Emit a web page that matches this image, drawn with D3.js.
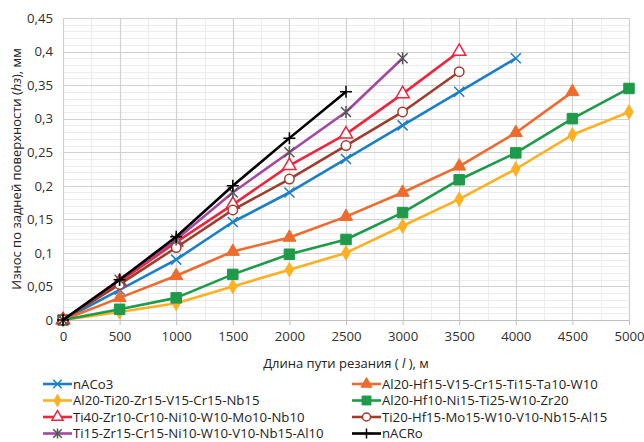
<!DOCTYPE html>
<html>
<head>
<meta charset="utf-8">
<script src="https://cdn.jsdelivr.net/npm/d3@7"></script>
<style>
  html, body { margin: 0; padding: 0; background: #fff; }
  svg { display: block; font-family: "Open Sans", "Noto Sans", sans-serif; }
</style>
</head>
<body>
<svg id="chart" width="644" height="442"></svg>
<script>
// Cutting path length, m
const distance = [0, 500, 1000, 1500, 2000, 2500, 3000, 3500, 4000, 4500, 5000];

// Flank wear hз, mm, for each coating
const nACo3      = [0, 0.045, 0.09, 0.146, 0.19, 0.24, 0.29, 0.34, 0.39];
const alHfVCrTiTaW = [0, 0.033, 0.066, 0.102, 0.123, 0.154, 0.19, 0.229, 0.279, 0.34];
const alTiZrVCrNb  = [0, 0.012, 0.025, 0.05, 0.075, 0.1, 0.14, 0.18, 0.225, 0.276, 0.31];
const alHfNiTiWZr  = [0, 0.016, 0.033, 0.068, 0.098, 0.12, 0.16, 0.209, 0.249, 0.3, 0.345];
const tiZrCrNiWMoNb = [0, 0.057, 0.116, 0.172, 0.23, 0.277, 0.337, 0.4];
const tiHfMoWVNbAl  = [0, 0.053, 0.108, 0.164, 0.21, 0.26, 0.31, 0.37];
const tiZrCrNiWVNbAl = [0, 0.06, 0.12, 0.19, 0.25, 0.31, 0.39];
const nACRo      = [0, 0.06, 0.124, 0.2, 0.271, 0.34];

const seriesNames = [
  "nACo3",
  "Al20-Hf15-V15-Cr15-Ti15-Ta10-W10",
  "Al20-Ti20-Zr15-V15-Cr15-Nb15",
  "Al20-Hf10-Ni15-Ti25-W10-Zr20",
  "Ti40-Zr10-Cr10-Ni10-W10-Mo10-Nb10",
  "Ti20-Hf15-Mo15-W10-V10-Nb15-Al15",
  "Ti15-Zr15-Cr15-Ni10-W10-V10-Nb15-Al10",
  "nACRo"
];
const seriesValues = [nACo3, alHfVCrTiTaW, alTiZrVCrNb, alHfNiTiWZr,
                      tiZrCrNiWMoNb, tiHfMoWVNbAl, tiZrCrNiWVNbAl, nACRo];

const xTicks = [0, 500, 1000, 1500, 2000, 2500, 3000, 3500, 4000, 4500, 5000];
const yTicks = [0, 0.05, 0.1, 0.15, 0.2, 0.25, 0.3, 0.35, 0.4, 0.45];

// Appearance of each series: line colour, marker shape, marker fill/stroke
const styles = [
  { color: "#1b7fc6", marker: "x",        fill: "none",    stroke: "#1b7fc6" },
  { color: "#ee6b2d", marker: "triangle", fill: "#ee6b2d", stroke: "#ee6b2d" },
  { color: "#fdb022", marker: "diamond",  fill: "#fdb022", stroke: "#fdb022" },
  { color: "#1e9a4a", marker: "square",   fill: "#1e9a4a", stroke: "#1e9a4a" },
  { color: "#f0243c", marker: "triangle", fill: "#ffffff", stroke: "#f0243c" },
  { color: "#a03c2c", marker: "circle",   fill: "#ffffff", stroke: "#a03c2c" },
  { color: "#a4489f", marker: "star",     fill: "none",    stroke: "#555555" },
  { color: "#000000", marker: "plus",     fill: "none",    stroke: "#000000" }
];

const series = seriesNames.map((name, i) => ({
  name,
  style: styles[i],
  points: seriesValues[i].map((v, j) => ({ x: distance[j], y: v }))
}));

const svg = d3.select("#chart");
const plot = { left: 63, right: 629, top: 18, bottom: 320 };

const x = d3.scaleLinear().domain([0, 5000]).range([plot.left, plot.right]);
const y = d3.scaleLinear().domain([0, 0.45]).range([plot.bottom, plot.top]);

const fmt = v => String(+v.toFixed(2)).replace(".", ",");
const textColor = "#303030";
const fontSize = 13.2;

// Minor gridlines
const grid = svg.append("g");
grid.selectAll("line.ym").data(d3.range(0, 0.4501, 0.01))
  .join("line")
  .attr("x1", plot.left).attr("x2", plot.right)
  .attr("y1", d => Math.round(y(d)) + 0.5).attr("y2", d => Math.round(y(d)) + 0.5)
  .attr("stroke", "#ececec").attr("stroke-width", 1);
grid.selectAll("line.xm").data(d3.range(250, 5000, 500))
  .join("line")
  .attr("y1", plot.top).attr("y2", plot.bottom)
  .attr("x1", d => Math.round(x(d)) + 0.5).attr("x2", d => Math.round(x(d)) + 0.5)
  .attr("stroke", "#ececec").attr("stroke-width", 1);

// Major gridlines
grid.append("g").selectAll("line").data(yTicks)
  .join("line")
  .attr("x1", plot.left).attr("x2", plot.right)
  .attr("y1", d => Math.round(y(d)) + 0.5).attr("y2", d => Math.round(y(d)) + 0.5)
  .attr("stroke", "#d0d0d0").attr("stroke-width", 1.2);
grid.append("g").selectAll("line").data(xTicks)
  .join("line")
  .attr("y1", plot.top).attr("y2", plot.bottom)
  .attr("x1", d => Math.round(x(d)) + 0.5).attr("x2", d => Math.round(x(d)) + 0.5)
  .attr("stroke", "#d0d0d0").attr("stroke-width", 1.2);

// Axes
const xAxis = svg.append("g")
  .attr("transform", `translate(0,${plot.bottom})`)
  .call(d3.axisBottom(x).tickValues(xTicks).tickSize(5).tickPadding(7).tickFormat(d3.format("d")));
xAxis.select(".domain").attr("stroke", "#bfbfbf");
xAxis.selectAll(".tick line").attr("stroke", "#bfbfbf");
xAxis.selectAll("text").attr("font-size", fontSize).attr("fill", textColor)
  .attr("font-family", "Open Sans, sans-serif");

const yAxis = svg.append("g")
  .attr("transform", `translate(${plot.left},0)`)
  .call(d3.axisLeft(y).tickValues(yTicks).tickSize(0).tickPadding(10).tickFormat(fmt));
yAxis.select(".domain").remove();
yAxis.selectAll("text").attr("font-size", fontSize).attr("fill", textColor)
  .attr("font-family", "Open Sans, sans-serif");

// Axis titles
const xTitle = svg.append("text")
  .attr("x", (plot.left + plot.right) / 2).attr("y", 368)
  .attr("text-anchor", "middle").attr("font-size", 13).attr("fill", "#222");
xTitle.append("tspan").text("Длина пути резания ( ");
xTitle.append("tspan").attr("font-style", "italic").text("l");
xTitle.append("tspan").text(" ), м");

const yTitle = svg.append("text")
  .attr("transform", `translate(21,${(plot.top + plot.bottom) / 2}) rotate(-90)`)
  .attr("text-anchor", "middle").attr("font-size", 13).attr("fill", "#222");
yTitle.append("tspan").text("Износ по задней поверхности  (");
yTitle.append("tspan").attr("font-style", "italic").text("hз");
yTitle.append("tspan").text("), мм");

// Marker drawing
function markerPath(type, scale) {
  const k = scale || 1;
  switch (type) {
    case "triangle": return d3.symbol(d3.symbolTriangle, 75 * k * k)();
    case "diamond":  return d3.symbol(d3.symbolDiamond, 60 * k * k)();
    case "square":   return d3.symbol(d3.symbolSquare, 110 * k * k)();
    case "circle":   return d3.symbol(d3.symbolCircle, 70 * k * k)();
    case "x":        return `M${-5*k},${-5*k}L${5*k},${5*k}M${-5*k},${5*k}L${5*k},${-5*k}`;
    case "plus":     return `M${-6*k},0L${6*k},0M0,${-6*k}L0,${6*k}`;
    case "star":     return `M${-5*k},${-5*k}L${5*k},${5*k}M${-5*k},${5*k}L${5*k},${-5*k}M0,${-6*k}L0,${6*k}`;
  }
}
function drawMarker(sel, st, scale) {
  const open = st.marker === "x" || st.marker === "plus" || st.marker === "star";
  sel.append("path")
    .attr("d", markerPath(st.marker, scale))
    .attr("fill", open ? "none" : st.fill)
    .attr("stroke", st.stroke)
    .attr("stroke-width", open ? 1.5 : (st.fill === "#ffffff" ? 1.5 : 1));
}

const line = d3.line().x(d => x(d.x)).y(d => y(d.y));

const layer = svg.append("g");
series.forEach(s => {
  const g = layer.append("g");
  g.append("path")
    .datum(s.points)
    .attr("d", line)
    .attr("fill", "none")
    .attr("stroke", s.style.color)
    .attr("stroke-width", 2.6)
    .attr("stroke-linejoin", "round");
  g.selectAll("g.m").data(s.points).join("g")
    .attr("transform", d => `translate(${x(d.x)},${y(d.y)})`)
    .each(function () { drawMarker(d3.select(this), s.style, 1); });
});

// Legend: two columns, four rows
const legendCols = [43, 352];
const legendRows = [384, 400.5, 417, 433.5];
const legend = svg.append("g");
series.forEach((s, i) => {
  const col = i % 2, row = Math.floor(i / 2);
  const g = legend.append("g")
    .attr("transform", `translate(${legendCols[col]},${legendRows[row]})`);
  g.append("line").attr("x1", 0).attr("x2", 29)
    .attr("stroke", s.style.color).attr("stroke-width", 2.6);
  const m = g.append("g").attr("transform", "translate(14.5,0)");
  drawMarker(m, s.style, 0.85);
  g.append("text").attr("x", 30).attr("y", 0).attr("dy", "0.35em")
    .attr("font-size", fontSize).attr("fill", "#222").text(s.name);
});
</script>
</body>
</html>
